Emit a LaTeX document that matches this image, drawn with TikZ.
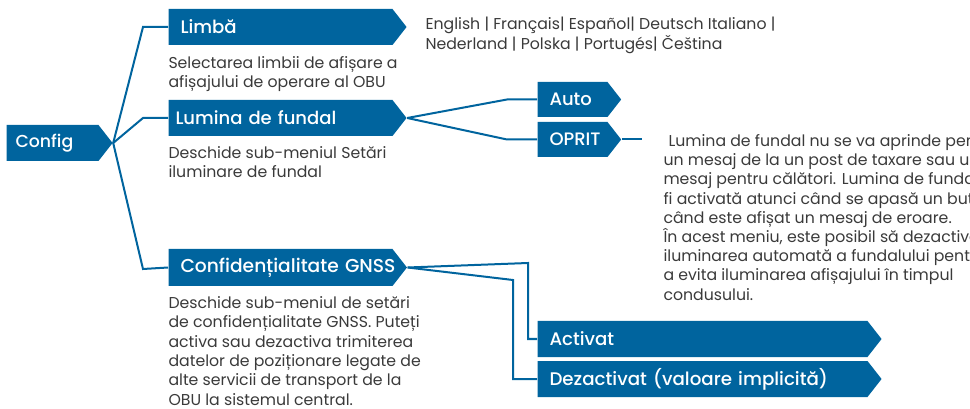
\documentclass[tikz,border=0pt]{standalone}
\usepackage{fontspec}
\setmainfont{Poppins}
\newfontfamily\boxfont{Poppins Medium}
\usetikzlibrary{shapes.symbols}
\definecolor{obublue}{RGB}{0,100,158}
\definecolor{desctext}{RGB}{58,58,58}
\tikzset{every picture/.style={line width=0.75pt}}
\tikzset{
  menubox/.style={shape=signal, signal to=east, signal pointer angle=104, fill=obublue, text=white, font=\boxfont\fontsize{13.5}{15}\selectfont, anchor=west, inner xsep=9pt, inner ysep=0pt, minimum height=27pt, align=left},
  desc/.style={anchor=north west, inner sep=0pt, text=desctext, font=\fontsize{11.8}{14.5}\selectfont, align=left},
  link/.style={draw=obublue, line width=1.5pt}
}

\begin{document}
\begin{tikzpicture}[x=0.75pt,y=0.75pt,yscale=-1,xscale=1]
\useasboundingbox (0,0) rectangle (970,409);

%Shape: Signal [id:config] 
\node (config) [menubox, text width=55.5pt, inner xsep=6.75pt, font=\boxfont\fontsize{13}{15}\selectfont] at (6,143) {Config};
%Shape: Signal [id:limba] 
\node (limba) [menubox, text width=150pt, font=\boxfont\fontsize{13.6}{15}\selectfont] at (168,27) {Limbă};
%Shape: Signal [id:lumina] 
\node (lumina) [menubox, text width=157.5pt, inner xsep=5.25pt] at (168,118) {Lumina de fundal};
%Shape: Signal [id:gnss] 
\node (gnss) [menubox, text width=150pt, minimum height=27.75pt, font=\boxfont\fontsize{14}{15}\selectfont] at (168,267.5) {\mbox{Confidențialitate GNSS}};
%Shape: Signal [id:auto] 
\node (auto) [menubox, text width=34.5pt, minimum height=26.25pt] at (537,99.5) {Auto};
%Shape: Signal [id:oprit] 
\node (oprit) [menubox, text width=34.5pt, minimum height=26.25pt] at (537,139.5) {OPRIT};
%Shape: Signal [id:activat] 
\node (activat) [menubox, text width=229.5pt, font=\boxfont\fontsize{13.6}{15}\selectfont] at (537,339) {Activat};
%Shape: Signal [id:dezactivat] 
\node (dezactivat) [menubox, text width=229.5pt, font=\boxfont\fontsize{13.7}{15}\selectfont] at (537,379) {Dezactivat (valoare implicită)};
\coordinate (opritend) at (642,139.5);

% Text Node
\node (limbi) [desc, font=\fontsize{11.8}{15}\selectfont] at (425,16) {English | Français| Español| Deutsch Italiano |\\Nederland | Polska | Portugés| Čeština};
% Text Node
\node (limbadesc) [desc] at (168,56) {Selectarea limbii de afișare a\\afișajului de operare al OBU};
% Text Node
\node (luminadesc) [desc] at (168,146) {Deschide sub-meniul Setări\\iluminare de fundal};
% Text Node
\node (gnssdesc) [desc] at (168,296) {Deschide sub-meniul de setări\\de confidențialitate GNSS. Puteți\\activa sau dezactiva trimiterea\\datelor de poziționare legate de\\alte servicii de transport de la\\OBU la sistemul central.};
% Text Node
\node (opritdesc) [desc, font=\fontsize{11.8}{14.4}\selectfont] at (663,134) {\hspace*{3.75pt}Lumina de fundal nu se va aprinde pentru\\un mesaj de la un post de taxare sau un\\mesaj pentru călători. Lumina de fundal va\\fi activată atunci când se apasă un buton sau\\când este afișat un mesaj de eroare.\\În acest meniu, este posibil să dezactivați\\iluminarea automată a fundalului pentru\\a evita iluminarea afișajului în timpul\\condusului.};

% Connection
\draw [link] (config.east) -- (143,27) -- (limba.west);
% Connection
\draw [link] (config.east) -- (143,118) -- (lumina.west);
% Connection
\draw [link] (config.east) -- (143,269) -- (gnss.west);
% Connection
\draw [link] (lumina.east) -- (507,99.5) -- (auto.west);
% Connection
\draw [link] (lumina.east) -- (507,139.5) -- (oprit.west);
% Connection
\draw [link] (oprit.east) -- (opritend);
% Connection
\draw [link] (gnss.east) -- (528,263) |- (activat.west);
% Connection
\draw [link] (gnss.east) -- (513,280) |- (dezactivat.west);

\end{tikzpicture}
\end{document}
